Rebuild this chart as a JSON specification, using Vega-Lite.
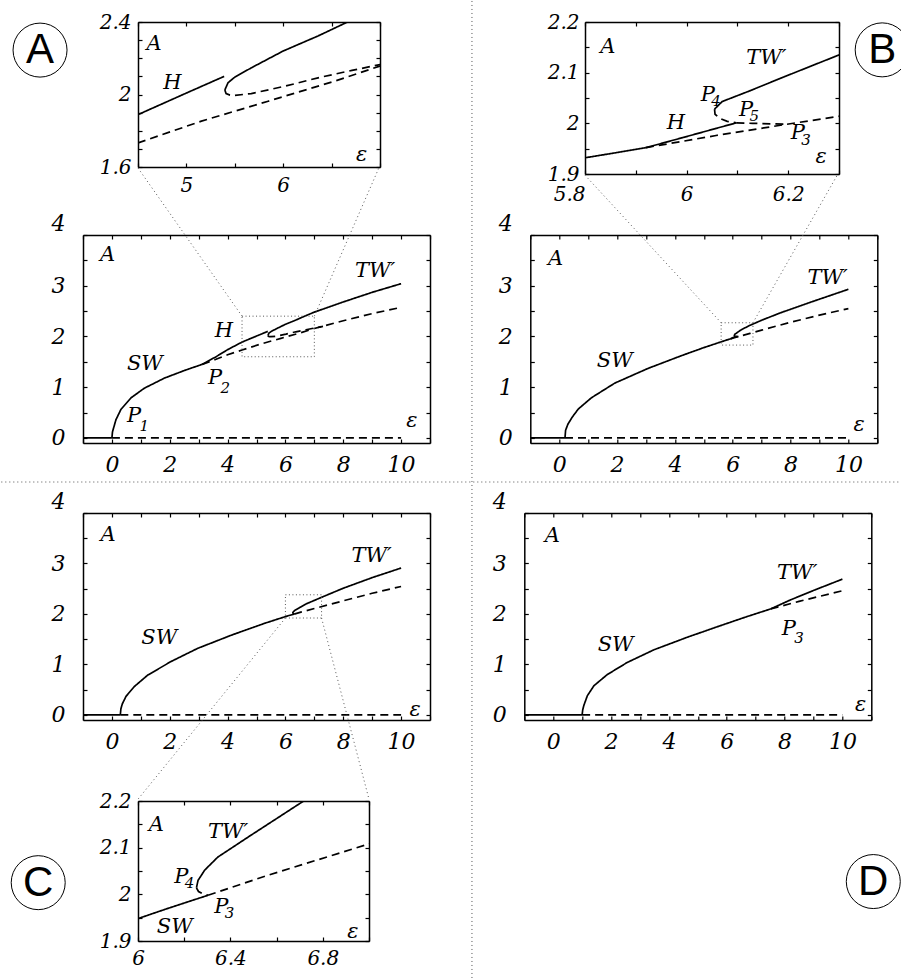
{
"$schema": "https://vega.github.io/schema/vega-lite/v6.json",
"padding": 0,
"bounds": "flush",
"spacing": 0,
"config": {
 "view": {"stroke": null},
 "axis": {"domainColor": "black", "domainWidth": 1.5, "tickColor": "black", "tickWidth": 1.2, "grid": false, "labelFont": "DejaVu Serif", "labelFontStyle": "italic", "labelColor": "black", "labelFlush": false, "labelOverlap": false},
 "text": {"font": "DejaVu Serif", "fontStyle": "italic", "color": "black"}
},
"datasets": {
 "curvesA": [
  {"seg":"base0","stab":"stable","i":0,"x":-1,"y":0},{"seg":"base0","stab":"stable","i":1,"x":0,"y":0},
  {"seg":"base1","stab":"unstable","i":0,"x":0,"y":0},{"seg":"base1","stab":"unstable","i":1,"x":10,"y":0},
  {"seg":"SW","stab":"stable","i":0,"x":0,"y":0},{"seg":"SW","stab":"stable","i":1,"x":0.02,"y":0.12},{"seg":"SW","stab":"stable","i":2,"x":0.14,"y":0.36},{"seg":"SW","stab":"stable","i":3,"x":0.31,"y":0.56},{"seg":"SW","stab":"stable","i":4,"x":0.66,"y":0.79},{"seg":"SW","stab":"stable","i":5,"x":1.12,"y":0.98},{"seg":"SW","stab":"stable","i":6,"x":1.82,"y":1.18},{"seg":"SW","stab":"stable","i":7,"x":2.51,"y":1.33},{"seg":"SW","stab":"stable","i":8,"x":3.12,"y":1.45},
  {"seg":"H","stab":"stable","i":0,"x":3.12,"y":1.45},{"seg":"H","stab":"stable","i":1,"x":3.6,"y":1.6},{"seg":"H","stab":"stable","i":2,"x":4.0,"y":1.74},{"seg":"H","stab":"stable","i":3,"x":4.5,"y":1.889},{"seg":"H","stab":"stable","i":4,"x":5.0,"y":2.008},{"seg":"H","stab":"stable","i":5,"x":5.39,"y":2.1},
  {"seg":"SWu","stab":"unstable","i":0,"x":3.12,"y":1.45},{"seg":"SWu","stab":"unstable","i":1,"x":3.6,"y":1.55},{"seg":"SWu","stab":"unstable","i":2,"x":4.0,"y":1.64},{"seg":"SWu","stab":"unstable","i":3,"x":4.5,"y":1.733},{"seg":"SWu","stab":"unstable","i":4,"x":5.155,"y":1.853},{"seg":"SWu","stab":"unstable","i":5,"x":5.845,"y":1.963},{"seg":"SWu","stab":"unstable","i":6,"x":6.534,"y":2.074},{"seg":"SWu","stab":"unstable","i":7,"x":7.0,"y":2.157},{"seg":"SWu","stab":"unstable","i":8,"x":8.0,"y":2.31},{"seg":"SWu","stab":"unstable","i":9,"x":9.0,"y":2.45},{"seg":"SWu","stab":"unstable","i":10,"x":10,"y":2.574},
  {"seg":"TW","stab":"stable","i":0,"x":5.397,"y":2.025},{"seg":"TW","stab":"stable","i":1,"x":5.43,"y":2.065},{"seg":"TW","stab":"stable","i":2,"x":5.5,"y":2.096},{"seg":"TW","stab":"stable","i":3,"x":5.67,"y":2.147},{"seg":"TW","stab":"stable","i":4,"x":6.0,"y":2.24},{"seg":"TW","stab":"stable","i":5,"x":6.36,"y":2.323},{"seg":"TW","stab":"stable","i":6,"x":6.665,"y":2.4},{"seg":"TW","stab":"stable","i":7,"x":7.0,"y":2.48},{"seg":"TW","stab":"stable","i":8,"x":8.0,"y":2.68},{"seg":"TW","stab":"stable","i":9,"x":9.0,"y":2.87},{"seg":"TW","stab":"stable","i":10,"x":10,"y":3.04},
  {"seg":"TWu","stab":"unstable","i":0,"x":5.397,"y":2.025},{"seg":"TWu","stab":"unstable","i":1,"x":5.41,"y":2.005},{"seg":"TWu","stab":"unstable","i":2,"x":5.45,"y":1.997},{"seg":"TWu","stab":"unstable","i":3,"x":5.5,"y":1.995},{"seg":"TWu","stab":"unstable","i":4,"x":5.67,"y":2.005},{"seg":"TWu","stab":"unstable","i":5,"x":6.02,"y":2.046},{"seg":"TWu","stab":"unstable","i":6,"x":6.36,"y":2.092},{"seg":"TWu","stab":"unstable","i":7,"x":6.71,"y":2.133},{"seg":"TWu","stab":"unstable","i":8,"x":7.0,"y":2.165},{"seg":"TWu","stab":"unstable","i":9,"x":7.3,"y":2.2}
 ],
 "curvesB": [
  {"seg":"base0","stab":"stable","i":0,"x":-1,"y":0},{"seg":"base0","stab":"stable","i":1,"x":0.2,"y":0},
  {"seg":"base1","stab":"unstable","i":0,"x":0.2,"y":0},{"seg":"base1","stab":"unstable","i":1,"x":10,"y":0},
  {"seg":"SW","stab":"stable","i":0,"x":0.2,"y":0},{"seg":"SW","stab":"stable","i":1,"x":0.22,"y":0.15},{"seg":"SW","stab":"stable","i":2,"x":0.3,"y":0.27},{"seg":"SW","stab":"stable","i":3,"x":0.45,"y":0.41},{"seg":"SW","stab":"stable","i":4,"x":0.66,"y":0.57},{"seg":"SW","stab":"stable","i":5,"x":1.11,"y":0.79},{"seg":"SW","stab":"stable","i":6,"x":1.92,"y":1.08},{"seg":"SW","stab":"stable","i":7,"x":3.07,"y":1.37},{"seg":"SW","stab":"stable","i":8,"x":4.22,"y":1.62},{"seg":"SW","stab":"stable","i":9,"x":5.0,"y":1.78},{"seg":"SW","stab":"stable","i":10,"x":5.5,"y":1.875},{"seg":"SW","stab":"stable","i":11,"x":5.8,"y":1.932},{"seg":"SW","stab":"stable","i":12,"x":5.861,"y":1.942},{"seg":"SW","stab":"stable","i":13,"x":5.92,"y":1.952},
  {"seg":"H","stab":"stable","i":0,"x":5.92,"y":1.952},{"seg":"H","stab":"stable","i":1,"x":5.993,"y":1.972},{"seg":"H","stab":"stable","i":2,"x":6.058,"y":1.99},{"seg":"H","stab":"stable","i":3,"x":6.098,"y":2.001},
  {"seg":"SWu","stab":"unstable","i":0,"x":5.92,"y":1.952},{"seg":"SWu","stab":"unstable","i":1,"x":6.058,"y":1.976},{"seg":"SWu","stab":"unstable","i":2,"x":6.19,"y":1.997},{"seg":"SWu","stab":"unstable","i":3,"x":6.3,"y":2.014},{"seg":"SWu","stab":"unstable","i":4,"x":6.6,"y":2.06},{"seg":"SWu","stab":"unstable","i":5,"x":7.0,"y":2.125},{"seg":"SWu","stab":"unstable","i":6,"x":8.0,"y":2.28},{"seg":"SWu","stab":"unstable","i":7,"x":9.0,"y":2.42},{"seg":"SWu","stab":"unstable","i":8,"x":10,"y":2.55},
  {"seg":"TW","stab":"stable","i":0,"x":6.055,"y":2.028},{"seg":"TW","stab":"stable","i":1,"x":6.07,"y":2.043},{"seg":"TW","stab":"stable","i":2,"x":6.124,"y":2.064},{"seg":"TW","stab":"stable","i":3,"x":6.19,"y":2.091},{"seg":"TW","stab":"stable","i":4,"x":6.255,"y":2.117},{"seg":"TW","stab":"stable","i":5,"x":6.3,"y":2.135},{"seg":"TW","stab":"stable","i":6,"x":6.6,"y":2.22},{"seg":"TW","stab":"stable","i":7,"x":7.0,"y":2.32},{"seg":"TW","stab":"stable","i":8,"x":7.67,"y":2.47},{"seg":"TW","stab":"stable","i":9,"x":8.82,"y":2.7},{"seg":"TW","stab":"stable","i":10,"x":10,"y":2.93},
  {"seg":"P4P5","stab":"unstable","i":0,"x":6.055,"y":2.028},{"seg":"P4P5","stab":"unstable","i":1,"x":6.056,"y":2.018},{"seg":"P4P5","stab":"unstable","i":2,"x":6.065,"y":2.01},{"seg":"P4P5","stab":"unstable","i":3,"x":6.08,"y":2.004},{"seg":"P4P5","stab":"unstable","i":4,"x":6.098,"y":2.001},
  {"seg":"P5P3","stab":"unstable","i":0,"x":6.098,"y":2.001},{"seg":"P5P3","stab":"unstable","i":1,"x":6.13,"y":2.0},{"seg":"P5P3","stab":"unstable","i":2,"x":6.17,"y":1.999},{"seg":"P5P3","stab":"unstable","i":3,"x":6.2,"y":1.998}
 ],
 "curvesC": [
  {"seg":"base0","stab":"stable","i":0,"x":-1,"y":0},{"seg":"base0","stab":"stable","i":1,"x":0.29,"y":0},
  {"seg":"base1","stab":"unstable","i":0,"x":0.29,"y":0},{"seg":"base1","stab":"unstable","i":1,"x":10,"y":0},
  {"seg":"SW","stab":"stable","i":0,"x":0.29,"y":0},{"seg":"SW","stab":"stable","i":1,"x":0.31,"y":0.12},{"seg":"SW","stab":"stable","i":2,"x":0.36,"y":0.22},{"seg":"SW","stab":"stable","i":3,"x":0.49,"y":0.37},{"seg":"SW","stab":"stable","i":4,"x":0.77,"y":0.56},{"seg":"SW","stab":"stable","i":5,"x":1.24,"y":0.79},{"seg":"SW","stab":"stable","i":6,"x":2.05,"y":1.06},{"seg":"SW","stab":"stable","i":7,"x":2.97,"y":1.32},{"seg":"SW","stab":"stable","i":8,"x":4.13,"y":1.58},{"seg":"SW","stab":"stable","i":9,"x":5.28,"y":1.815},{"seg":"SW","stab":"stable","i":10,"x":6.0,"y":1.948},{"seg":"SW","stab":"stable","i":11,"x":6.13,"y":1.97},{"seg":"SW","stab":"stable","i":12,"x":6.303,"y":1.998},
  {"seg":"SWu","stab":"unstable","i":0,"x":6.303,"y":1.998},{"seg":"SWu","stab":"unstable","i":1,"x":6.563,"y":2.041},{"seg":"SWu","stab":"unstable","i":2,"x":7.0,"y":2.108},{"seg":"SWu","stab":"unstable","i":3,"x":8.0,"y":2.26},{"seg":"SWu","stab":"unstable","i":4,"x":9.0,"y":2.41},{"seg":"SWu","stab":"unstable","i":5,"x":10,"y":2.545},
  {"seg":"TW","stab":"stable","i":0,"x":6.253,"y":2.014},{"seg":"TW","stab":"stable","i":1,"x":6.26,"y":2.03},{"seg":"TW","stab":"stable","i":2,"x":6.289,"y":2.052},{"seg":"TW","stab":"stable","i":3,"x":6.346,"y":2.08},{"seg":"TW","stab":"stable","i":4,"x":6.49,"y":2.127},{"seg":"TW","stab":"stable","i":5,"x":6.714,"y":2.199},{"seg":"TW","stab":"stable","i":6,"x":7.25,"y":2.33},{"seg":"TW","stab":"stable","i":7,"x":8.0,"y":2.51},{"seg":"TW","stab":"stable","i":8,"x":9.0,"y":2.72},{"seg":"TW","stab":"stable","i":9,"x":10,"y":2.91},
  {"seg":"P4","stab":"unstable","i":0,"x":6.253,"y":2.014},{"seg":"P4","stab":"unstable","i":1,"x":6.262,"y":2.006},{"seg":"P4","stab":"unstable","i":2,"x":6.28,"y":2.001},{"seg":"P4","stab":"unstable","i":3,"x":6.303,"y":1.998}
 ],
 "curvesD": [
  {"seg":"base0","stab":"stable","i":0,"x":-1,"y":0},{"seg":"base0","stab":"stable","i":1,"x":1,"y":0},
  {"seg":"base1","stab":"unstable","i":0,"x":1,"y":0},{"seg":"base1","stab":"unstable","i":1,"x":10,"y":0},
  {"seg":"SW","stab":"stable","i":0,"x":1.0,"y":0},{"seg":"SW","stab":"stable","i":1,"x":1.02,"y":0.1},{"seg":"SW","stab":"stable","i":2,"x":1.06,"y":0.19},{"seg":"SW","stab":"stable","i":3,"x":1.18,"y":0.38},{"seg":"SW","stab":"stable","i":4,"x":1.41,"y":0.58},{"seg":"SW","stab":"stable","i":5,"x":1.87,"y":0.8},{"seg":"SW","stab":"stable","i":6,"x":2.56,"y":1.04},{"seg":"SW","stab":"stable","i":7,"x":3.48,"y":1.29},{"seg":"SW","stab":"stable","i":8,"x":4.64,"y":1.54},{"seg":"SW","stab":"stable","i":9,"x":5.79,"y":1.77},{"seg":"SW","stab":"stable","i":10,"x":6.71,"y":1.95},{"seg":"SW","stab":"stable","i":11,"x":7.52,"y":2.1},
  {"seg":"TW","stab":"stable","i":0,"x":7.52,"y":2.1},{"seg":"TW","stab":"stable","i":1,"x":8.21,"y":2.28},{"seg":"TW","stab":"stable","i":2,"x":9.02,"y":2.47},{"seg":"TW","stab":"stable","i":3,"x":10,"y":2.69},
  {"seg":"SWu","stab":"unstable","i":0,"x":7.52,"y":2.1},{"seg":"SWu","stab":"unstable","i":1,"x":8.5,"y":2.25},{"seg":"SWu","stab":"unstable","i":2,"x":10,"y":2.46}
 ]
},
"vconcat": [
 {"hconcat": [
   {"width": 54.3, "height": 10, "data": {"values": [{"a": 0}]}, "mark": {"type": "text", "text": ""}, "encoding": {}},
   {"width": 242, "height": 145,
    "layer": [
     {"data": {"name": "curvesA"}, "mark": {"type": "line", "color": "black", "strokeWidth": 1.7, "clip": true},
      "encoding": {
       "x": {"field": "x", "type": "quantitative", "title": null, "scale": {"domain": [4.5, 7], "nice": false, "zero": false}, "axis": {"orient": "bottom", "values": [4.5,5,5.5,6,6.5,7], "format": "~g", "labelExpr": "datum.value == 5 || datum.value == 6 ? datum.label : ''", "tickSize": -4, "labelPadding": 12, "labelFontSize": 20}},
       "y": {"field": "y", "type": "quantitative", "title": null, "scale": {"domain": [1.6, 2.4], "nice": false, "zero": false}, "axis": {"orient": "left", "values": [1.6,1.7,1.8,1.9,2,2.1,2.2,2.3,2.4], "format": "~g", "labelExpr": "indexof([1.6, 2, 2.4], datum.value) >= 0 ? datum.label : ''", "tickSize": -4, "labelPadding": 11, "labelFontSize": 20}},
       "detail": {"field": "seg"}, "order": {"field": "i"},
       "strokeDash": {"field": "stab", "type": "nominal", "scale": {"domain": ["stable", "unstable"], "range": [[1, 0], [8, 5]]}, "legend": null}
      }},
     {"data": {"values": [{"t":"A","x":4.665,"y":2.28,"k":"big"},{"t":"H","x":4.855,"y":2.065,"k":"big"},{"t":"ε","x":6.81,"y":1.668,"k":"big"}]},
      "mark": {"type": "text"},
      "encoding": {
       "x": {"field": "x", "type": "quantitative", "title": null, "axis": {"orient": "top", "values": [4.5,5,5.5,6,6.5,7], "labels": false, "tickSize": -4}},
       "y": {"field": "y", "type": "quantitative", "title": null, "axis": {"orient": "right", "values": [1.6,1.7,1.8,1.9,2,2.1,2.2,2.3,2.4], "labels": false, "tickSize": -4}},
       "text": {"field": "t"},
       "size": {"field": "k", "type": "ordinal", "scale": {"domain": ["big", "sub"], "range": [21, 15]}, "legend": null}
      }},
     {"data": {"values": [{"x": 3.488, "y": 2.245, "t": "A"}]},
      "layer": [
       {"mark": {"type": "point", "shape": "circle", "filled": false, "color": "black", "strokeWidth": 1, "size": 2916, "opacity": 1},
        "encoding": {"x": {"field": "x", "type": "quantitative", "axis": null}, "y": {"field": "y", "type": "quantitative", "axis": null}}},
       {"mark": {"type": "text", "font": "Liberation Sans", "fontStyle": "normal", "fontSize": 42},
        "encoding": {"x": {"field": "x", "type": "quantitative", "axis": null}, "y": {"field": "y", "type": "quantitative", "axis": null}, "text": {"field": "t"}}}
      ]},
     {"data": {"values": [{"x": 7.95, "x2": 7.95, "y": 2.516, "y2": -2.891}]},
      "mark": {"type": "rule", "color": "#555", "strokeWidth": 1, "strokeDash": [1, 3]},
      "encoding": {"x": {"field": "x", "type": "quantitative", "axis": null}, "x2": {"field": "x2"}, "y": {"field": "y", "type": "quantitative", "axis": null}, "y2": {"field": "y2"}}}
    ],
    "resolve": {"axis": {"x": "independent", "y": "independent"}}
   },
   {"width": 204.6, "height": 10, "data": {"values": [{"a": 0}]}, "mark": {"type": "text", "text": ""}, "encoding": {}},
   {"width": 254, "height": 152,
    "layer": [
     {"data": {"name": "curvesB"}, "mark": {"type": "line", "color": "black", "strokeWidth": 1.7, "clip": true},
      "encoding": {
       "x": {"field": "x", "type": "quantitative", "title": null, "scale": {"domain": [5.8, 6.3], "nice": false, "zero": false}, "axis": {"orient": "bottom", "values": [5.8,5.9,6,6.1,6.2,6.3], "format": "~g", "labelExpr": "indexof([5.8, 6, 6.2], datum.value) >= 0 ? datum.label : ''", "labelAlign": {"condition": {"test": "datum.value == 5.8", "value": "right"}, "value": "center"}, "tickSize": -4, "labelPadding": 14, "labelFontSize": 20}},
       "y": {"field": "y", "type": "quantitative", "title": null, "scale": {"domain": [1.9, 2.2], "nice": false, "zero": false}, "axis": {"orient": "left", "values": [1.9,1.95,2,2.05,2.1,2.15,2.2], "format": "~g", "labelExpr": "indexof([1.9, 2, 2.1, 2.2], datum.value) >= 0 ? datum.label : ''", "tickSize": -4, "labelPadding": 10, "labelFontSize": 20}},
       "detail": {"field": "seg"}, "order": {"field": "i"},
       "strokeDash": {"field": "stab", "type": "nominal", "scale": {"domain": ["stable", "unstable"], "range": [[1, 0], [8, 5]]}, "legend": null}
      }},
     {"data": {"values": [{"t":"A","x":5.845,"y":2.151,"k":"big"},{"t":"TW′","x":6.157,"y":2.128,"k":"big"},{"t":"P","x":6.042,"y":2.056,"k":"big"},{"t":"4","x":6.058,"y":2.044,"k":"sub"},{"t":"P","x":6.117,"y":2.026,"k":"big"},{"t":"5","x":6.133,"y":2.014,"k":"sub"},{"t":"H","x":5.979,"y":2.0,"k":"big"},{"t":"P","x":6.219,"y":1.98,"k":"big"},{"t":"3","x":6.235,"y":1.968,"k":"sub"},{"t":"ε","x":6.265,"y":1.934,"k":"big"}]},
      "mark": {"type": "text"},
      "encoding": {
       "x": {"field": "x", "type": "quantitative", "title": null, "axis": {"orient": "top", "values": [5.8,5.9,6,6.1,6.2,6.3], "labels": false, "tickSize": -4}},
       "y": {"field": "y", "type": "quantitative", "title": null, "axis": {"orient": "right", "values": [1.9,1.95,2,2.05,2.1,2.15,2.2], "labels": false, "tickSize": -4}},
       "text": {"field": "t"},
       "size": {"field": "k", "type": "ordinal", "scale": {"domain": ["big", "sub"], "range": [21, 15]}, "legend": null}
      }},
     {"data": {"values": [{"x": 6.385, "y": 2.145, "t": "B"}]},
      "layer": [
       {"mark": {"type": "point", "shape": "circle", "filled": false, "color": "black", "strokeWidth": 1, "size": 2916, "opacity": 1},
        "encoding": {"x": {"field": "x", "type": "quantitative", "axis": null}, "y": {"field": "y", "type": "quantitative", "axis": null}}},
       {"mark": {"type": "text", "font": "Liberation Sans", "fontStyle": "normal", "fontSize": 42},
        "encoding": {"x": {"field": "x", "type": "quantitative", "axis": null}, "y": {"field": "y", "type": "quantitative", "axis": null}, "text": {"field": "t"}}}
      ]}
    ],
    "resolve": {"axis": {"x": "independent", "y": "independent"}}
   }
  ], "spacing": 0, "bounds": "flush"},
 {"width": 1, "height": 213, "data": {"values": [{"a": 0}]}, "mark": {"type": "text", "text": ""}, "encoding": {}},
 {"hconcat": [
   {"width": 347, "height": 208,
    "layer": [
     {"data": {"name": "curvesA"}, "mark": {"type": "line", "color": "black", "strokeWidth": 1.7, "clip": true},
      "encoding": {
       "x": {"field": "x", "type": "quantitative", "title": null, "scale": {"domain": [-1, 11], "nice": false, "zero": false}, "axis": {"orient": "bottom", "values": [-1,0,1,2,3,4,5,6,7,8,9,10,11], "format": "~g", "labelExpr": "datum.value % 2 == 0 ? datum.label : ''", "tickSize": -4, "labelPadding": 15, "labelFontSize": 22}},
       "y": {"field": "y", "type": "quantitative", "title": null, "scale": {"domain": [-0.1, 4], "nice": false, "zero": false}, "axis": {"orient": "left", "values": [0,0.5,1,1.5,2,2.5,3,3.5,4], "format": "~g", "labelExpr": "datum.value % 1 == 0 ? datum.label : ''", "labelBaseline": {"condition": {"test": "datum.value == 4", "value": "bottom"}, "value": "middle"}, "tickSize": -4, "labelPadding": 22, "labelFontSize": 22}},
       "detail": {"field": "seg"}, "order": {"field": "i"},
       "strokeDash": {"field": "stab", "type": "nominal", "scale": {"domain": ["stable", "unstable"], "range": [[1, 0], [8, 5]]}, "legend": null}
      }},
     {"data": {"values": [{"t":"A","x":-0.15,"y":3.6,"k":"big"},{"t":"TW′","x":9.1,"y":3.3,"k":"big"},{"t":"H","x":3.87,"y":2.1,"k":"big"},{"t":"SW","x":1.14,"y":1.46,"k":"big"},{"t":"P","x":3.57,"y":1.18,"k":"big"},{"t":"2","x":3.92,"y":0.99,"k":"sub"},{"t":"P","x":0.77,"y":0.43,"k":"big"},{"t":"1","x":1.12,"y":0.24,"k":"sub"},{"t":"ε","x":10.37,"y":0.33,"k":"big"}]},
      "mark": {"type": "text"},
      "encoding": {
       "x": {"field": "x", "type": "quantitative", "title": null, "axis": {"orient": "top", "values": [-1,0,1,2,3,4,5,6,7,8,9,10,11], "labels": false, "tickSize": -4}},
       "y": {"field": "y", "type": "quantitative", "title": null, "axis": {"orient": "right", "values": [0,0.5,1,1.5,2,2.5,3,3.5,4], "labels": false, "tickSize": -4}},
       "text": {"field": "t"},
       "size": {"field": "k", "type": "ordinal", "scale": {"domain": ["big", "sub"], "range": [26, 17]}, "legend": null}
      }},
     {"data": {"values": [{"x": 4.5, "x2": 7, "y": 1.6, "y2": 2.4}]},
      "mark": {"type": "rect", "filled": false, "color": "#555", "strokeWidth": 1, "strokeDash": [1, 2.5]},
      "encoding": {"x": {"field": "x", "type": "quantitative", "axis": null}, "x2": {"field": "x2"}, "y": {"field": "y", "type": "quantitative", "axis": null}, "y2": {"field": "y2"}}},
     {"data": {"values": [{"x": 4.5, "y": 2.4, "x2": 0.878, "y2": 5.34}, {"x": 7, "y": 2.4, "x2": 9.246, "y2": 5.34}, {"x": -3.825, "y": -0.869, "x2": 27.33, "y2": -0.869}]},
      "mark": {"type": "rule", "color": "#555", "strokeWidth": 1, "strokeDash": [1, 3]},
      "encoding": {"x": {"field": "x", "type": "quantitative", "axis": null}, "x2": {"field": "x2"}, "y": {"field": "y", "type": "quantitative", "axis": null}, "y2": {"field": "y2"}}}
    ],
    "resolve": {"axis": {"x": "independent", "y": "independent"}}
   },
   {"width": 347, "height": 208,
    "layer": [
     {"data": {"name": "curvesB"}, "mark": {"type": "line", "color": "black", "strokeWidth": 1.7, "clip": true},
      "encoding": {
       "x": {"field": "x", "type": "quantitative", "title": null, "scale": {"domain": [-1, 11], "nice": false, "zero": false}, "axis": {"orient": "bottom", "values": [-1,0,1,2,3,4,5,6,7,8,9,10,11], "format": "~g", "labelExpr": "datum.value % 2 == 0 ? datum.label : ''", "tickSize": -4, "labelPadding": 15, "labelFontSize": 22}},
       "y": {"field": "y", "type": "quantitative", "title": null, "scale": {"domain": [-0.1, 4], "nice": false, "zero": false}, "axis": {"orient": "left", "values": [0,0.5,1,1.5,2,2.5,3,3.5,4], "format": "~g", "labelExpr": "datum.value % 1 == 0 ? datum.label : ''", "labelBaseline": {"condition": {"test": "datum.value == 4", "value": "bottom"}, "value": "middle"}, "tickSize": -4, "labelPadding": 22, "labelFontSize": 22}},
       "detail": {"field": "seg"}, "order": {"field": "i"},
       "strokeDash": {"field": "stab", "type": "nominal", "scale": {"domain": ["stable", "unstable"], "range": [[1, 0], [8, 5]]}, "legend": null}
      }},
     {"data": {"values": [{"t":"A","x":-0.13,"y":3.53,"k":"big"},{"t":"TW′","x":9.28,"y":3.16,"k":"big"},{"t":"SW","x":1.92,"y":1.52,"k":"big"},{"t":"ε","x":10.37,"y":0.26,"k":"big"}]},
      "mark": {"type": "text"},
      "encoding": {
       "x": {"field": "x", "type": "quantitative", "title": null, "axis": {"orient": "top", "values": [-1,0,1,2,3,4,5,6,7,8,9,10,11], "labels": false, "tickSize": -4}},
       "y": {"field": "y", "type": "quantitative", "title": null, "axis": {"orient": "right", "values": [0,0.5,1,1.5,2,2.5,3,3.5,4], "labels": false, "tickSize": -4}},
       "text": {"field": "t"},
       "size": {"field": "k", "type": "ordinal", "scale": {"domain": ["big", "sub"], "range": [26, 17]}, "legend": null}
      }},
     {"data": {"values": [{"x": 5.6, "x2": 6.7, "y": 1.83, "y2": 2.27}]},
      "mark": {"type": "rect", "filled": false, "color": "#555", "strokeWidth": 1, "strokeDash": [1, 2.5]},
      "encoding": {"x": {"field": "x", "type": "quantitative", "axis": null}, "x2": {"field": "x2"}, "y": {"field": "y", "type": "quantitative", "axis": null}, "y2": {"field": "y2"}}},
     {"data": {"values": [{"x": 5.6, "y": 2.27, "x2": 0.854, "y2": 5.202}, {"x": 6.7, "y": 2.27, "x2": 9.637, "y2": 5.202}]},
      "mark": {"type": "rule", "color": "#555", "strokeWidth": 1, "strokeDash": [1, 3]},
      "encoding": {"x": {"field": "x", "type": "quantitative", "axis": null}, "x2": {"field": "x2"}, "y": {"field": "y", "type": "quantitative", "axis": null}, "y2": {"field": "y2"}}}
    ],
    "resolve": {"axis": {"x": "independent", "y": "independent"}}
   }
  ], "spacing": 100.3, "bounds": "flush"},
 {"width": 1, "height": 277.7, "data": {"values": [{"a": 0}]}, "mark": {"type": "text", "text": ""}, "encoding": {}},
 {"hconcat": [
   {"width": 347, "height": 207,
    "layer": [
     {"data": {"name": "curvesC"}, "mark": {"type": "line", "color": "black", "strokeWidth": 1.7, "clip": true},
      "encoding": {
       "x": {"field": "x", "type": "quantitative", "title": null, "scale": {"domain": [-1, 11], "nice": false, "zero": false}, "axis": {"orient": "bottom", "values": [-1,0,1,2,3,4,5,6,7,8,9,10,11], "format": "~g", "labelExpr": "datum.value % 2 == 0 ? datum.label : ''", "tickSize": -4, "labelPadding": 15, "labelFontSize": 22}},
       "y": {"field": "y", "type": "quantitative", "title": null, "scale": {"domain": [-0.1, 4], "nice": false, "zero": false}, "axis": {"orient": "left", "values": [0,0.5,1,1.5,2,2.5,3,3.5,4], "format": "~g", "labelExpr": "datum.value % 1 == 0 ? datum.label : ''", "labelBaseline": {"condition": {"test": "datum.value == 4", "value": "bottom"}, "value": "middle"}, "tickSize": -4, "labelPadding": 22, "labelFontSize": 22}},
       "detail": {"field": "seg"}, "order": {"field": "i"},
       "strokeDash": {"field": "stab", "type": "nominal", "scale": {"domain": ["stable", "unstable"], "range": [[1, 0], [8, 5]]}, "legend": null}
      }},
     {"data": {"values": [{"t":"A","x":-0.13,"y":3.57,"k":"big"},{"t":"TW′","x":8.98,"y":3.14,"k":"big"},{"t":"SW","x":1.64,"y":1.52,"k":"big"},{"t":"ε","x":10.49,"y":0.1,"k":"big"}]},
      "mark": {"type": "text"},
      "encoding": {
       "x": {"field": "x", "type": "quantitative", "title": null, "axis": {"orient": "top", "values": [-1,0,1,2,3,4,5,6,7,8,9,10,11], "labels": false, "tickSize": -4}},
       "y": {"field": "y", "type": "quantitative", "title": null, "axis": {"orient": "right", "values": [0,0.5,1,1.5,2,2.5,3,3.5,4], "labels": false, "tickSize": -4}},
       "text": {"field": "t"},
       "size": {"field": "k", "type": "ordinal", "scale": {"domain": ["big", "sub"], "range": [26, 17]}, "legend": null}
      }},
     {"data": {"values": [{"x": 6, "x2": 7.25, "y": 1.92, "y2": 2.38}]},
      "mark": {"type": "rect", "filled": false, "color": "#555", "strokeWidth": 1, "strokeDash": [1, 2.5]},
      "encoding": {"x": {"field": "x", "type": "quantitative", "axis": null}, "x2": {"field": "x2"}, "y": {"field": "y", "type": "quantitative", "axis": null}, "y2": {"field": "y2"}}},
     {"data": {"values": [{"x": 6, "y": 1.92, "x2": 0.902, "y2": -1.669}, {"x": 7.25, "y": 1.92, "x2": 8.89, "y2": -1.669}]},
      "mark": {"type": "rule", "color": "#555", "strokeWidth": 1, "strokeDash": [1, 3]},
      "encoding": {"x": {"field": "x", "type": "quantitative", "axis": null}, "x2": {"field": "x2"}, "y": {"field": "y", "type": "quantitative", "axis": null}, "y2": {"field": "y2"}}}
    ],
    "resolve": {"axis": {"x": "independent", "y": "independent"}}
   },
   {"width": 347, "height": 207,
    "layer": [
     {"data": {"name": "curvesD"}, "mark": {"type": "line", "color": "black", "strokeWidth": 1.7, "clip": true},
      "encoding": {
       "x": {"field": "x", "type": "quantitative", "title": null, "scale": {"domain": [-1, 11], "nice": false, "zero": false}, "axis": {"orient": "bottom", "values": [-1,0,1,2,3,4,5,6,7,8,9,10,11], "format": "~g", "labelExpr": "datum.value % 2 == 0 ? datum.label : ''", "tickSize": -4, "labelPadding": 15, "labelFontSize": 22}},
       "y": {"field": "y", "type": "quantitative", "title": null, "scale": {"domain": [-0.1, 4], "nice": false, "zero": false}, "axis": {"orient": "left", "values": [0,0.5,1,1.5,2,2.5,3,3.5,4], "format": "~g", "labelExpr": "datum.value % 1 == 0 ? datum.label : ''", "labelBaseline": {"condition": {"test": "datum.value == 4", "value": "bottom"}, "value": "middle"}, "tickSize": -4, "labelPadding": 22, "labelFontSize": 22}},
       "detail": {"field": "seg"}, "order": {"field": "i"},
       "strokeDash": {"field": "stab", "type": "nominal", "scale": {"domain": ["stable", "unstable"], "range": [[1, 0], [8, 5]]}, "legend": null}
      }},
     {"data": {"values": [{"t":"A","x":-0.03,"y":3.54,"k":"big"},{"t":"TW′","x":8.44,"y":2.81,"k":"big"},{"t":"SW","x":2.16,"y":1.38,"k":"big"},{"t":"P","x":8.15,"y":1.71,"k":"big"},{"t":"3","x":8.5,"y":1.53,"k":"sub"},{"t":"ε","x":10.63,"y":0.19,"k":"big"}]},
      "mark": {"type": "text"},
      "encoding": {
       "x": {"field": "x", "type": "quantitative", "title": null, "axis": {"orient": "top", "values": [-1,0,1,2,3,4,5,6,7,8,9,10,11], "labels": false, "tickSize": -4}},
       "y": {"field": "y", "type": "quantitative", "title": null, "axis": {"orient": "right", "values": [0,0.5,1,1.5,2,2.5,3,3.5,4], "labels": false, "tickSize": -4}},
       "text": {"field": "t"},
       "size": {"field": "k", "type": "ordinal", "scale": {"domain": ["big", "sub"], "range": [26, 17]}, "legend": null}
      }},
     {"data": {"values": [{"x": 11.069, "y": -3.3, "t": "D"}]},
      "layer": [
       {"mark": {"type": "point", "shape": "circle", "filled": false, "color": "black", "strokeWidth": 1, "size": 2916, "opacity": 1},
        "encoding": {"x": {"field": "x", "type": "quantitative", "axis": null}, "y": {"field": "y", "type": "quantitative", "axis": null}}},
       {"mark": {"type": "text", "font": "Liberation Sans", "fontStyle": "normal", "fontSize": 42},
        "encoding": {"x": {"field": "x", "type": "quantitative", "axis": null}, "y": {"field": "y", "type": "quantitative", "axis": null}, "text": {"field": "t"}}}
      ]}
    ],
    "resolve": {"axis": {"x": "independent", "y": "independent"}}
   }
  ], "spacing": 94.3, "bounds": "flush"},
 {"width": 1, "height": 287.6, "data": {"values": [{"a": 0}]}, "mark": {"type": "text", "text": ""}, "encoding": {}},
 {"hconcat": [
   {"width": 55, "height": 10, "data": {"values": [{"a": 0}]}, "mark": {"type": "text", "text": ""}, "encoding": {}},
   {"width": 231, "height": 140,
    "layer": [
     {"data": {"name": "curvesC"}, "mark": {"type": "line", "color": "black", "strokeWidth": 1.7, "clip": true},
      "encoding": {
       "x": {"field": "x", "type": "quantitative", "title": null, "scale": {"domain": [6, 7], "nice": false, "zero": false}, "axis": {"orient": "bottom", "values": [6,6.2,6.4,6.6,6.8,7], "format": "~g", "labelExpr": "indexof([6, 6.4, 6.8], datum.value) >= 0 ? datum.label : ''", "tickSize": -4, "labelPadding": 11, "labelFontSize": 20}},
       "y": {"field": "y", "type": "quantitative", "title": null, "scale": {"domain": [1.9, 2.2], "nice": false, "zero": false}, "axis": {"orient": "left", "values": [1.9,1.95,2,2.05,2.1,2.15,2.2], "format": "~g", "labelExpr": "indexof([1.9, 2, 2.1, 2.2], datum.value) >= 0 ? datum.label : ''", "tickSize": -4, "labelPadding": 11, "labelFontSize": 20}},
       "detail": {"field": "seg"}, "order": {"field": "i"},
       "strokeDash": {"field": "stab", "type": "nominal", "scale": {"domain": ["stable", "unstable"], "range": [[1, 0], [8, 5]]}, "legend": null}
      }},
     {"data": {"values": [{"t":"A","x":6.079,"y":2.148,"k":"big"},{"t":"TW′","x":6.39,"y":2.134,"k":"big"},{"t":"P","x":6.188,"y":2.038,"k":"big"},{"t":"4","x":6.223,"y":2.025,"k":"sub"},{"t":"P","x":6.361,"y":1.973,"k":"big"},{"t":"3","x":6.396,"y":1.96,"k":"sub"},{"t":"SW","x":6.159,"y":1.93,"k":"big"},{"t":"ε","x":6.93,"y":1.919,"k":"big"}]},
      "mark": {"type": "text"},
      "encoding": {
       "x": {"field": "x", "type": "quantitative", "title": null, "axis": {"orient": "top", "values": [6,6.2,6.4,6.6,6.8,7], "labels": false, "tickSize": -4}},
       "y": {"field": "y", "type": "quantitative", "title": null, "axis": {"orient": "right", "values": [1.9,1.95,2,2.05,2.1,2.15,2.2], "labels": false, "tickSize": -4}},
       "text": {"field": "t"},
       "size": {"field": "k", "type": "ordinal", "scale": {"domain": ["big", "sub"], "range": [21, 15]}, "legend": null}
      }},
     {"data": {"values": [{"x": 5.568, "y": 2.025, "t": "C"}]},
      "layer": [
       {"mark": {"type": "point", "shape": "circle", "filled": false, "color": "black", "strokeWidth": 1, "size": 2916, "opacity": 1},
        "encoding": {"x": {"field": "x", "type": "quantitative", "axis": null}, "y": {"field": "y", "type": "quantitative", "axis": null}}},
       {"mark": {"type": "text", "font": "Liberation Sans", "fontStyle": "normal", "fontSize": 42},
        "encoding": {"x": {"field": "x", "type": "quantitative", "axis": null}, "y": {"field": "y", "type": "quantitative", "axis": null}, "text": {"field": "t"}}}
      ]}
    ],
    "resolve": {"axis": {"x": "independent", "y": "independent"}}
   }
  ], "spacing": 0, "bounds": "flush"}
]
}
